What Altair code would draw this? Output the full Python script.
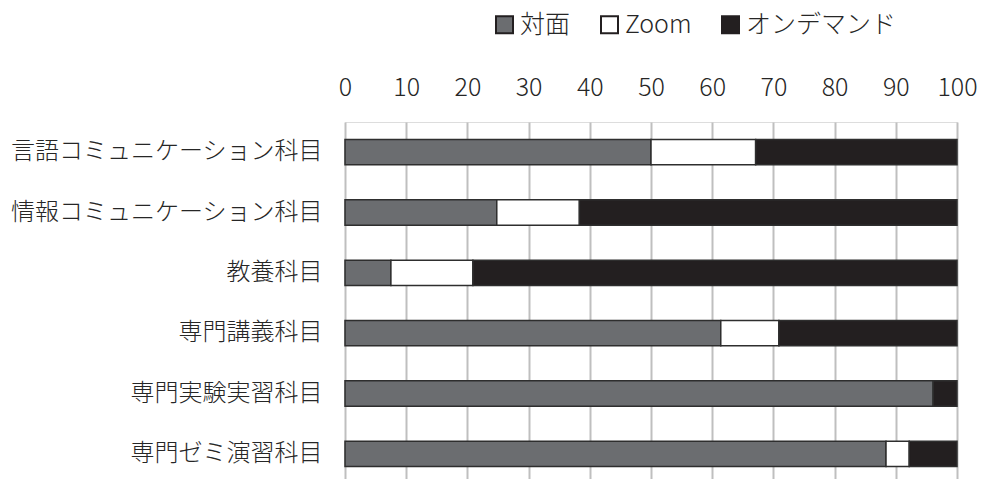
import altair as alt
import pandas as pd

categories = ["言語コミュニケーション科目", "情報コミュニケーション科目", "教養科目",
              "専門講義科目", "専門実験実習科目", "専門ゼミ演習科目"]
face = [50.0, 24.8, 7.5, 61.4, 96.1, 88.4]
zoom = [17.1, 13.5, 13.4, 9.5, 0.0, 3.8]
ondemand = [32.9, 61.7, 79.1, 29.1, 3.9, 7.8]
series = ["対面", "Zoom", "オンデマンド"]
colors = ["#6b6d70", "#ffffff", "#231f20"]
tick_values = [0, 10, 20, 30, 40, 50, 60, 70, 80, 90, 100]

rows = []
for i, c in enumerate(categories):
    for j, (s, vals) in enumerate(zip(series, [face, zoom, ondemand])):
        if vals[i] > 0:
            rows.append({"category": c, "series": s, "value": vals[i], "order": j})
df = pd.DataFrame(rows)

FONT = "Noto Sans CJK JP"

chart = alt.Chart(df).mark_bar(stroke="#2e2e2e", strokeWidth=1.5).encode(
    y=alt.Y("category:N", sort=categories,
            scale=alt.Scale(paddingInner=0.58, paddingOuter=0.29),
            axis=alt.Axis(title=None, domain=False, ticks=False, labelFontSize=24,
                          labelPadding=23, labelColor="#262626", labelFont=FONT,
                          labelFontWeight=300, labelLimit=400)),
    x=alt.X("value:Q", stack="zero",
            scale=alt.Scale(domain=[0, 100], nice=False),
            axis=alt.Axis(orient="top", values=tick_values, title=None, domain=False,
                          ticks=False, tickSize=0, labelFontSize=25, labelPadding=22,
                          labelFlush=False, labelFontWeight=300,
                          labelColor="#262626", labelFont=FONT, grid=True,
                          gridColor="#bfbfbf", gridWidth=2)),
    color=alt.Color("series:N", sort=series,
                    scale=alt.Scale(domain=series, range=colors),
                    legend=alt.Legend(title=None, orient="none", legendX=147, legendY=-110,
                                      direction="horizontal", symbolType="square",
                                      symbolSize=289, symbolStrokeColor="#231f20",
                                      symbolStrokeWidth=2, labelFontSize=25,
                                      labelFont=FONT, labelColor="#262626",
                                      labelFontWeight=300,
                                      labelOffset=3, columnPadding=26, padding=0)),
    order=alt.Order("order:Q"),
).properties(
    width=612, height=362,
    autosize=alt.AutoSizeParams(type="none"),
    padding={"left": 345, "top": 122, "right": 24, "bottom": 0},
).configure_view(stroke=None).configure(background="white")

chart.save("out.html", embed_options={"renderer": "svg", "actions": False})
